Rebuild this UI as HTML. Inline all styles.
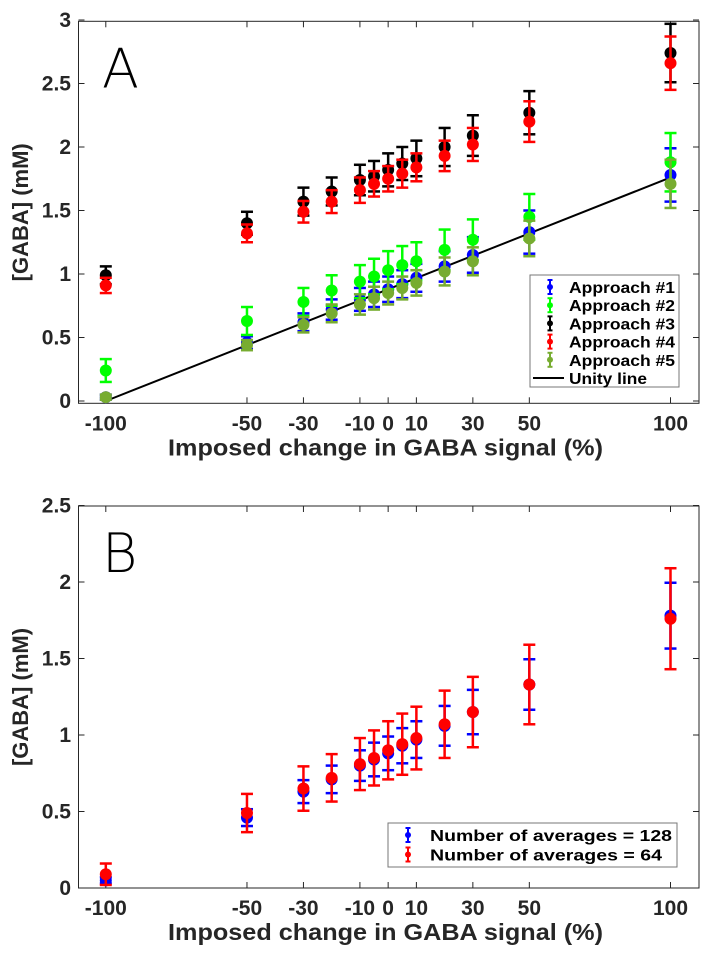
<!DOCTYPE html>
<html><head><meta charset="utf-8"><style>
body{margin:0;background:#fff;}
svg{display:block;font-family:"Liberation Sans",sans-serif;}
</style></head><body>
<svg id="fig" width="701" height="956" xmlns="http://www.w3.org/2000/svg"></svg>
<script>
const xCats = [-100,-50,-30,-20,-10,-5,0,5,10,20,30,50,100];
const xTickVals = [-100,-50,-30,-10,0,10,30,50,100];
const xTickLabels = ["-100","-50","-30","-10","0","10","30","50","100"];
const yTicksA = [0,0.5,1,1.5,2,2.5,3];
const yTickLabelsA = ["0","0.5","1","1.5","2","2.5","3"];
const yTicksB = [0,0.5,1,1.5,2,2.5];
const yTickLabelsB = ["0","0.5","1","1.5","2","2.5"];
const a1 = [0.03,0.46,0.62,0.72,0.80,0.84,0.88,0.92,0.97,1.06,1.15,1.33,1.78];
const a1e = [0.02,0.05,0.07,0.08,0.09,0.10,0.10,0.11,0.11,0.12,0.14,0.17,0.21];
const a2 = [0.24,0.63,0.78,0.87,0.94,0.98,1.03,1.07,1.10,1.19,1.27,1.45,1.88];
const a2e = [0.09,0.11,0.11,0.12,0.13,0.14,0.15,0.15,0.15,0.16,0.16,0.18,0.23];
const a3 = [0.99,1.40,1.57,1.65,1.74,1.77,1.82,1.87,1.91,2.00,2.09,2.27,2.74];
const a3e = [0.07,0.09,0.11,0.11,0.12,0.12,0.13,0.13,0.14,0.15,0.16,0.17,0.23];
const a4 = [0.91,1.32,1.49,1.57,1.66,1.71,1.75,1.79,1.84,1.93,2.02,2.20,2.66];
const a4e = [0.06,0.07,0.085,0.09,0.10,0.10,0.10,0.11,0.11,0.12,0.13,0.16,0.21];
const a5 = [0.03,0.44,0.60,0.69,0.76,0.81,0.85,0.89,0.93,1.02,1.10,1.28,1.71];
const a5e = [0.02,0.04,0.06,0.07,0.08,0.09,0.09,0.09,0.10,0.11,0.11,0.14,0.19];
const unityX = [-100,100];
const unityY = [0,1.76];
const b128 = [0.05,0.46,0.63,0.71,0.80,0.84,0.88,0.93,0.97,1.06,1.15,1.33,1.78];
const b128e = [0.02,0.055,0.075,0.09,0.10,0.11,0.11,0.115,0.12,0.13,0.145,0.165,0.215];
const b64 = [0.09,0.49,0.65,0.72,0.81,0.85,0.90,0.94,0.98,1.07,1.15,1.33,1.76];
const b64e = [0.07,0.125,0.145,0.155,0.17,0.18,0.19,0.20,0.205,0.22,0.23,0.26,0.33];

const NS="http://www.w3.org/2000/svg";
const svg=document.getElementById('fig');
function mk(tag,attrs,parent){const e=document.createElementNS(NS,tag);for(const k in attrs)e.setAttribute(k,attrs[k]);(parent||svg).appendChild(e);return e;}
const X=v=>105.8+(v+100)*(670.5-105.8)/200;

function panel(cfg){
  const g=mk('g',{});
  
  
  const Y=v=>cfg.y0-cfg.k*v;
  const L=78.5,R=699,T=cfg.top,B=cfg.bottom;
  const box=mk('rect',{x:L,y:T,width:R-L,height:B-T,fill:'#fff',stroke:'#262626','stroke-width':1},g);
  
  
  xTickVals.forEach((v,i)=>{
    const x=X(v);
    mk('line',{x1:x,x2:x,y1:B,y2:B-6,stroke:'#262626'},g);
    mk('line',{x1:x,x2:x,y1:T,y2:T+6,stroke:'#262626'},g);
    const t=mk('text',{x:x,y:B+27,'text-anchor':'middle','font-size':21,'font-weight':'bold',fill:'#262626'},g);
    t.textContent=xTickLabels[i];
    
    
  });
  cfg.yt.forEach((v,i)=>{
    const y=Y(v);
    mk('line',{x1:L,x2:L+6,y1:y,y2:y,stroke:'#262626'},g);
    mk('line',{x1:R,x2:R-6,y1:y,y2:y,stroke:'#262626'},g);
    const t=mk('text',{x:71,y:y+7,'text-anchor':'end','font-size':21,'font-weight':'bold',fill:'#262626'},g);
    t.textContent=cfg.ytl[i];
    
    
  });
  const xl=mk('text',{x:168,y:B+52,'font-size':23,'font-weight':'bold',fill:'#262626',textLength:435,lengthAdjust:'spacingAndGlyphs'},g);
  xl.textContent='Imposed change in GABA signal (%)';
  
  
  const yc=(T+B)/2;
  const yl=mk('text',{x:0,y:0,transform:`translate(28,${yc}) rotate(-90)`,'text-anchor':'middle','font-size':22,'font-weight':'bold',fill:'#262626'},g);
  yl.textContent='[GABA] (mM)';
  
  
  const pl=mk('text',{x:102,y:T+66,'font-size':54,fill:'#000','font-family':'DejaVu Sans, sans-serif','font-weight':'200'},g);
  pl.textContent=cfg.letter;
  
  
  return {g,Y};
}
function series(p,vals,errs,color,name){
  const g=mk('g',{},p.g);
  
  
  vals.forEach((v,i)=>{
    const x=X(xCats[i]),y=p.Y(v),hi=p.Y(v+errs[i]),lo=p.Y(v-errs[i]);
    mk('line',{x1:x,x2:x,y1:hi,y2:lo,stroke:color,'stroke-width':2.5},g);
    mk('line',{x1:x-6,x2:x+6,y1:hi,y2:hi,stroke:color,'stroke-width':2.5},g);
    mk('line',{x1:x-6,x2:x+6,y1:lo,y2:lo,stroke:color,'stroke-width':2.5},g);
    const c=mk('circle',{cx:x,cy:y,r:6,fill:color},g);
    
    
  });
}
function legend(p,x,y,w,h,entries,fs,rowH,iconX,textX){
  const g=mk('g',{},p.g);
  
  
  mk('rect',{x,y,width:w,height:h,fill:'#fff',stroke:'#777','stroke-width':1},g);
  entries.forEach((e,i)=>{
    const cy=y+12+i*rowH, lx=x+iconX;
    const eg=mk('g',{},g);
    
    
    if(e.line){mk('line',{x1:x+3,x2:x+34,y1:cy,y2:cy,stroke:e.c,'stroke-width':2},eg);}
    else{
      mk('line',{x1:lx,x2:lx,y1:cy-7,y2:cy+7,stroke:e.c,'stroke-width':2},eg);
      mk('line',{x1:lx-2.5,x2:lx+2.5,y1:cy-7,y2:cy-7,stroke:e.c,'stroke-width':2},eg);
      mk('line',{x1:lx-2.5,x2:lx+2.5,y1:cy+7,y2:cy+7,stroke:e.c,'stroke-width':2},eg);
      mk('circle',{cx:lx,cy:cy,r:3,fill:e.c},eg);
    }
    const attrs={x:x+textX,y:cy+6,'font-size':fs,'font-weight':'bold',fill:'#000'};
    if(e.w){attrs.textLength=e.w;attrs.lengthAdjust='spacingAndGlyphs';}
    const t=mk('text',attrs,eg);
    t.textContent=e.t;
  });
}
const pA=panel({name:'panel-a',top:21.3,bottom:403.3,y0:401,k:127,yt:yTicksA,ytl:yTickLabelsA,letter:'A'});
const ul=mk('line',{x1:X(unityX[0]),y1:pA.Y(unityY[0]),x2:X(unityX[1]),y2:pA.Y(unityY[1]),stroke:'#000','stroke-width':2},pA.g);


series(pA,a3,a3e,'#000000','approach-3-series');
series(pA,a4,a4e,'#ff0000','approach-4-series');
series(pA,a1,a1e,'#0000ff','approach-1-series');
series(pA,a2,a2e,'#00ff00','approach-2-series');
series(pA,a5,a5e,'#77ac30','approach-5-series');
legend(pA,530,275,149,112,[
 {c:'#0000ff',t:'Approach #1',w:106},{c:'#00ff00',t:'Approach #2',w:106},{c:'#000',t:'Approach #3',w:106},
 {c:'#ff0000',t:'Approach #4',w:106},{c:'#77ac30',t:'Approach #5',w:106},{c:'#000',t:'Unity line',w:78,line:true}],16,18.2,20,39);
const pB=panel({name:'panel-b',top:506,bottom:888,y0:888,k:153,yt:yTicksB,ytl:yTickLabelsB,letter:'B'});
series(pB,b128,b128e,'#0000ff','averages-128-series');
series(pB,b64,b64e,'#ff0000','averages-64-series');
legend(pB,388,823,289,44,[
 {c:'#0000ff',t:'Number of averages = 128',w:242},{c:'#ff0000',t:'Number of averages = 64',w:232}],16,19.5,20,42);
</script>
</body></html>
